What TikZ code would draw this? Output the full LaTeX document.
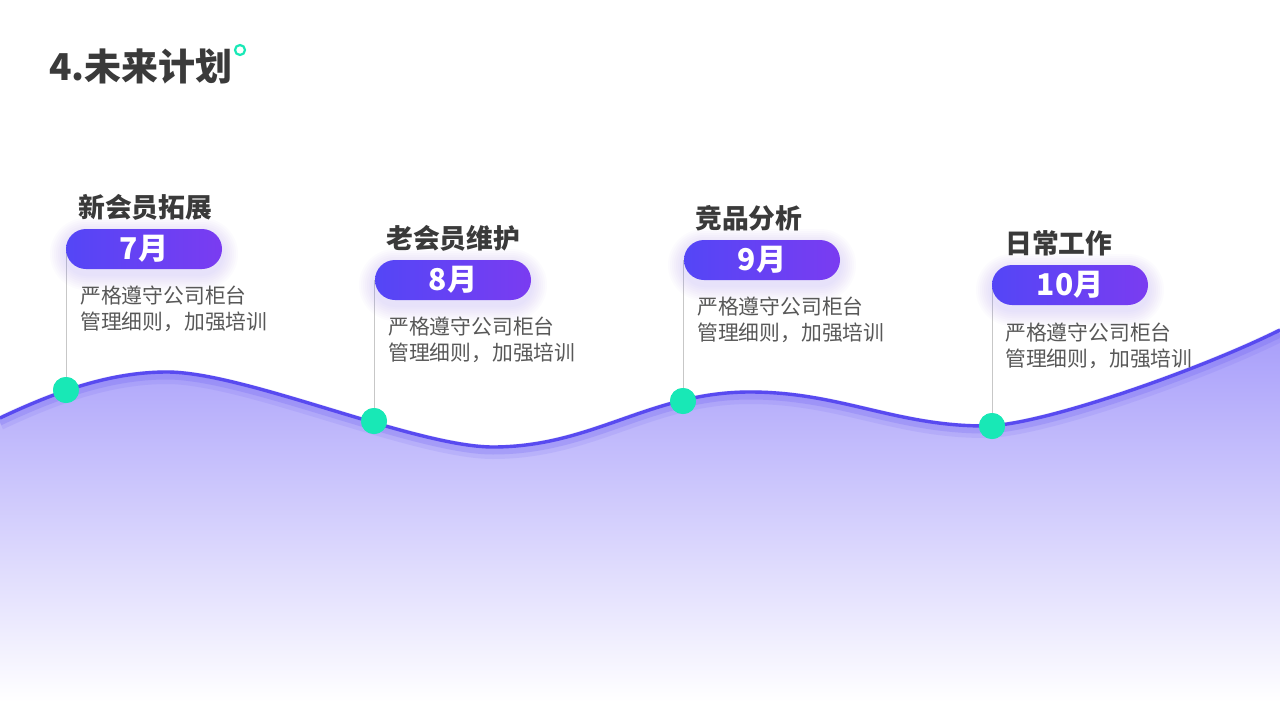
\documentclass[tikz,border=0pt]{standalone}
\usepackage{fontspec}
\setmainfont{Noto Sans CJK SC}
\usetikzlibrary{calc}
\definecolor{lineblue}{RGB}{88,74,240}
\definecolor{pillL}{RGB}{84,70,246}
\definecolor{pillR}{RGB}{122,60,241}
\definecolor{dotteal}{RGB}{24,232,182}
\definecolor{wavetop}{RGB}{166,156,250}
\definecolor{titlegray}{RGB}{58,58,58}
\definecolor{descgray}{RGB}{88,88,88}
\definecolor{glowc}{RGB}{130,110,250}
\tikzset{
  pill/.style={rounded corners=20pt, minimum width=156pt, minimum height=40pt, inner sep=0pt,
    left color=pillL, right color=pillR, text=white, font=\fontsize{30}{30}\selectfont\bfseries},
  sectitle/.style={anchor=base west, inner sep=0pt, text=titlegray, font=\fontsize{26.8}{26.8}\selectfont\bfseries},
  desc/.style={anchor=base west, inner sep=0pt, text=descgray, font=\fontsize{20.8}{20.8}\selectfont},
  dotnode/.style={circle, fill=dotteal, minimum size=26pt, inner sep=0pt},
  conn/.style={draw=black!22, line width=0.8pt},
}
\newcommand\wavepath{(0,418) .. controls (55,392) and (110,372) .. (167,372)
  .. controls (245,372) and (415,447) .. (493,447)
  .. controls (593,447) and (650,392) .. (750,392)
  .. controls (840,392) and (895,426) .. (985,426)
  .. controls (1040,426) and (1200,370) .. (1280,330)}
\newcommand\pillglow[1]{%
  \foreach \k in {1,...,8}{%
    \fill[glowc, opacity=0.022, rounded corners={20pt+2pt*\k}]
      ($(#1)+(-78-2*\k,-20-2*\k+5)$) rectangle ($(#1)+(78+2*\k,20+2*\k+5)$);}}
\begin{document}
\begin{tikzpicture}[x=1pt, y=-1pt]
\useasboundingbox (0,0) rectangle (1280,720);
\fill[white] (0,0) rectangle (1280,720);

% wave fill
\begin{scope}
  \clip \wavepath -- (1280,720) -- (0,720) -- cycle;
  \shade[top color=wavetop, bottom color=white] (0,326) rectangle (1280,702);
\end{scope}
% glow under the wave line
\draw[lineblue, opacity=0.10, line width=14pt, yshift=-5pt] \wavepath;
\draw[lineblue, opacity=0.18, line width=7pt, yshift=-4pt] \wavepath;
\draw[lineblue, line width=3.4pt] \wavepath;

% anchor coordinates
\coordinate (c1) at (144,249);
\coordinate (c2) at (453,280);
\coordinate (c3) at (762,260);
\coordinate (c4) at (1070,285);

% dots
\node[dotnode] (d1) at (66,390) {};
\node[dotnode] (d2) at (374,421) {};
\node[dotnode] (d3) at (683,401) {};
\node[dotnode] (d4) at (992,426) {};

% connectors
\draw[conn] (d1.center) -- (d1 |- c1);
\draw[conn] (d2.center) -- (d2 |- c2);
\draw[conn] (d3.center) -- (d3 |- c3);
\draw[conn] (d4.center) -- (d4 |- c4);
\foreach \d in {d1,d2,d3,d4}{\node[dotnode] at (\d) {};}

% pill glows
\pillglow{c1}
\pillglow{c2}
\pillglow{c3}
\pillglow{c4}

% pills
\node[pill] (p1) at (c1) {7月};
\node[pill] (p2) at (c2) {8月};
\node[pill] (p3) at (c3) {9月};
\node[pill] (p4) at (c4) {10月};

% section titles
\node[sectitle] (s1) at (78,217) {新会员拓展};
\node[sectitle] (s2) at (386,248) {老会员维护};
\node[sectitle] (s3) at (695,228) {竞品分析};
\node[sectitle] (s4) at (1005,253) {日常工作};

% descriptions
\node[desc] (t1a) at (80,303.5) {严格遵守公司柜台};
\node[desc] (t1b) at (80,329.5) {管理细则，加强培训};
\node[desc] (t2a) at (388,334.5) {严格遵守公司柜台};
\node[desc] (t2b) at (388,360.5) {管理细则，加强培训};
\node[desc] (t3a) at (697,314.5) {严格遵守公司柜台};
\node[desc] (t3b) at (697,340.5) {管理细则，加强培训};
\node[desc] (t4a) at (1005,340.5) {严格遵守公司柜台};
\node[desc] (t4b) at (1005,366.5) {管理细则，加强培训};

% title
\node[anchor=base west, inner sep=0pt, text=titlegray, font=\fontsize{37}{37}\selectfont\bfseries] (title) at (49,80) {4.未来计划};
\node[circle, draw=dotteal, line width=2.2pt, minimum size=10pt, inner sep=0pt] (ring) at (240,50) {};
\end{tikzpicture}
\end{document}
